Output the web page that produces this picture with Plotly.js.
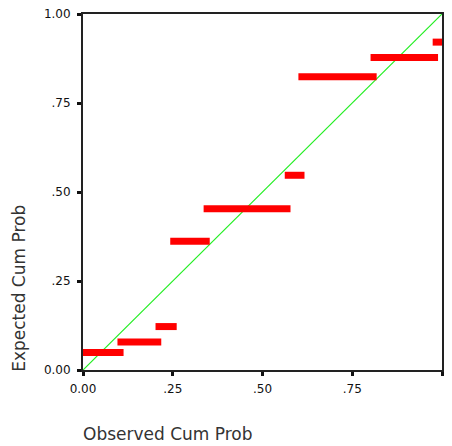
<!DOCTYPE html>
<html>
<head>
<meta charset="utf-8">
<script src="https://cdn.plot.ly/plotly-3.0.1.min.js"></script>
<style>html,body{margin:0;padding:0;background:#fff;}#chart{width:452px;height:446px;}</style>
</head>
<body>
<div id="chart"></div>
<script>
// Observed cumulative probability ranges (start/end) and expected cumulative probability of each step
var obsStart = [0.000, 0.096, 0.202, 0.243, 0.336, 0.562, 0.600, 0.801, 0.974];
var obsEnd   = [0.113, 0.218, 0.261, 0.353, 0.578, 0.617, 0.818, 0.989, 1.000];
var expected = [0.049, 0.079, 0.122, 0.362, 0.453, 0.547, 0.824, 0.878, 0.921];
var refLine = [0, 1];
var tickVals = [0, 0.25, 0.5, 0.75, 1];
var tickText = ['0.00', '.25', '.50', '.75', '1.00'];
var xTitle = 'Observed Cum Prob';
var yTitle = 'Expected Cum Prob';

var bx = [], by = [];
for (var i = 0; i < obsStart.length; i++) {
  bx.push(obsStart[i], obsEnd[i], null);
  by.push(expected[i], expected[i], null);
}

var traces = [
  {x: refLine, y: refLine, type: 'scatter', mode: 'lines', line: {color: '#22ee22', width: 1.2}, hoverinfo: 'skip'},
  {x: bx, y: by, type: 'scatter', mode: 'lines', connectgaps: false, line: {color: '#ff0000', width: 7}, hoverinfo: 'skip'}
];

var axisCommon = {
  range: [0, 1], tickvals: tickVals, ticktext: tickText, tickmode: 'array',
  showgrid: false, zeroline: false, showline: true, mirror: true,
  linecolor: '#222', linewidth: 2, ticks: 'outside', ticklen: 4, tickwidth: 3, tickcolor: '#111',
  tickfont: {family: 'DejaVu Sans', size: 12, color: '#111'}, fixedrange: true
};

var layout = {
  width: 452, height: 446,
  margin: {l: 83, r: 10, t: 14, b: 76},
  paper_bgcolor: '#fff', plot_bgcolor: '#fff',
  showlegend: false,
  xaxis: Object.assign({}, axisCommon, {ticklabelstandoff: 3}),
  yaxis: Object.assign({}, axisCommon, {ticklabelstandoff: 4}),
  annotations: [
    {text: xTitle, xref: 'paper', yref: 'paper', x: 0, y: -0.18, xanchor: 'left', yanchor: 'middle', xshift: -2,
     showarrow: false, font: {family: 'DejaVu Sans', size: 17, color: '#333'}},
    {text: yTitle, xref: 'paper', yref: 'paper', x: -0.179, y: 0.23, xanchor: 'center', yanchor: 'middle', textangle: -90,
     showarrow: false, font: {family: 'DejaVu Sans', size: 17, color: '#333'}}
  ]
};

Plotly.newPlot('chart', traces, layout, {displayModeBar: false, staticPlot: true});
</script>
</body>
</html>
